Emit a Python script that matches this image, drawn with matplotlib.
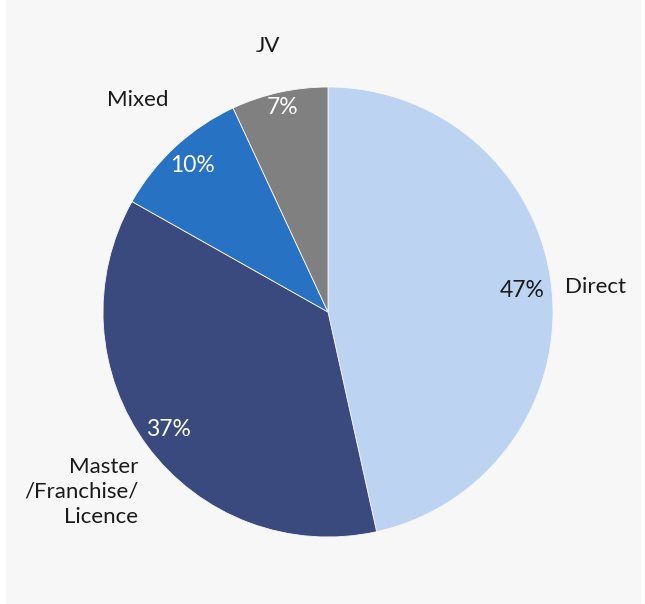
import matplotlib.pyplot as plt
import numpy as np

plt.rcParams["font.family"] = ["Lato", "DejaVu Sans"]

categories = ["Direct", "Master\n/Franchise/\nLicence", "Mixed", "JV"]
shares = [47, 37, 10, 7]

colors = ["#bdd3f2", "#3b4a7e", "#2872c4", "#808080"]
pct_colors = ["#1a1a1a", "white", "white", "white"]
pct_radius = [0.87, 0.88, 0.89, 0.93]

# category label anchors (data units, pie radius = 1) and alignment
label_pos = [(1.054, 0.11), (-0.844, -0.80), (-0.711, 0.942), (-0.267, 1.182)]
label_ha = ["left", "right", "right", "center"]

W, H = 645, 604
cx, cy, rad = 328, 312, 225

fig = plt.figure(figsize=(W / 100, H / 100), dpi=100, facecolor="white")

# grey panel behind the pie
bg = fig.add_axes([6 / W, 0, (641 - 6) / W, 1], zorder=-5)
bg.set_facecolor("#f7f7f7")
bg.set_xticks([])
bg.set_yticks([])
for s in bg.spines.values():
    s.set_visible(False)

ax = fig.add_axes([0, 0, 1, 1])
ax.set_facecolor("none")

wedges, _ = ax.pie(shares, colors=colors, startangle=90, counterclock=False,
                   radius=1.0, wedgeprops=dict(edgecolor="#f7f7f7", linewidth=0.6))

ax.set_aspect("auto")
ax.set_xlim(-cx / rad, (W - cx) / rad)
ax.set_ylim(-(H - cy) / rad, cy / rad)
ax.axis("off")

for w, val, r, c in zip(wedges, shares, pct_radius, pct_colors):
    theta = np.deg2rad((w.theta1 + w.theta2) / 2)
    ax.text(r * np.cos(theta), r * np.sin(theta), f"{val}%", color=c,
            fontsize=16.5, ha="center", va="center")

for name, (x, y), ha in zip(categories, label_pos, label_ha):
    ax.text(x, y, name, ha=ha, va="center", fontsize=16, color="#1a1a1a",
            multialignment="right" if ha == "right" else "center", linespacing=1.3)

fig.savefig("out.png", dpi=100, facecolor=fig.get_facecolor())
